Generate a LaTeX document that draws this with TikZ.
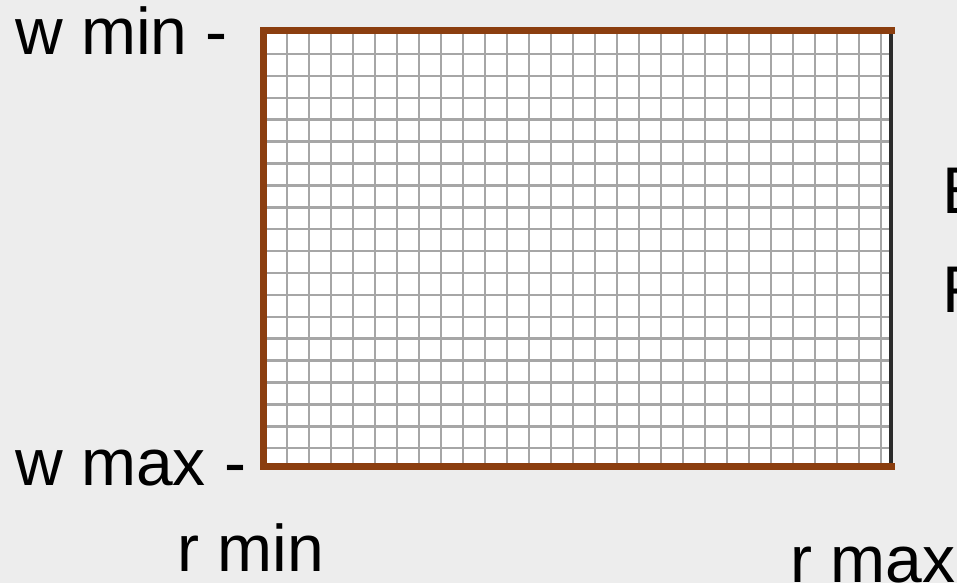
\documentclass[tikz,border=0pt]{standalone}
\usepackage{fontspec}
\setmainfont{Liberation Sans}
\usepackage{xcolor}
\usepackage{tikz}
\usetikzlibrary{positioning}
\definecolor{paper}{HTML}{EDEDED}
\definecolor{edgebrown}{HTML}{8B3E0F}
\definecolor{edgedark}{HTML}{2B2B2B}
\definecolor{cellline}{HTML}{A6A6A6}
\newcommand{\biglabel}{\fontsize{66}{79}\selectfont}

\begin{document}
\begin{tikzpicture}[x=1pt,y=-1pt,
  lbl/.style={anchor=base west,inner sep=0pt,font=\biglabel}]
  \useasboundingbox (0,0) rectangle (957,583);
  \fill[paper] (0,0) rectangle (957,583);
  % grid area
  \fill[white] (263,31) rectangle (891,466);
  \foreach \i in {0,...,27}
    \draw[cellline,line width=2.5pt] ({287+22*\i},31) -- ({287+22*\i},466);
  \foreach \j in {0,...,18}
    \draw[cellline,line width=2.5pt] (263,{54+21.9*\j}) -- (891,{54+21.9*\j});
  \draw[edgedark,line width=4pt] (891,29) -- (891,468);
  \draw[edgebrown,line width=7pt,line cap=rect] (891,31) -- (263,31) -- (263,466) -- (891,466);
  % labels
  \node[lbl] (wmin) at (15,55) {w min -};
  \node[lbl] (wmax) at (15,485) {w max -};
  \node[lbl] (rmin) at (177,571) {r min};
  \node[lbl] (rmax) at (790,582) {r max};
  \node[lbl] (etxt) at (942,213) {E};
  \node[lbl] (ftxt) at (942,312) {F};
\end{tikzpicture}
\end{document}
